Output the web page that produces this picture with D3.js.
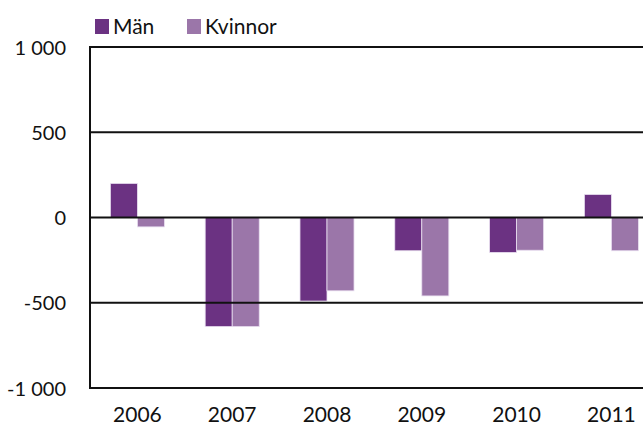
<!DOCTYPE html>
<html>
<head>
<meta charset="utf-8">
<script src="https://cdn.jsdelivr.net/npm/d3@7"></script>
<style>
  body { margin: 0; background: #fff; }
  svg { display: block; }
</style>
</head>
<body>
<svg class="chart" width="643" height="427"></svg>
<script>
// data
const years = ['2006', '2007', '2008', '2009', '2010', '2011'];
const series = ['Män', 'Kvinnor'];
const man = [200, -640, -490, -195, -205, 135];
const kvinnor = [-55, -640, -430, -460, -192, -195];
const yTicks = [1000, 500, 0, -500, -1000];

const colors = ['#6b3282', '#9b76a9'];
const fontFam = "'Lato', 'Open Sans', sans-serif";

const svg = d3.select('svg.chart');

const plotLeft = 90, plotTop = 47, plotBottom = 388;
const step = 94.8;

const x = d3.scaleBand()
  .domain(years)
  .range([plotLeft, plotLeft + step * years.length]);

const x1 = d3.scaleBand()
  .domain(series)
  .range([x.bandwidth() * 0.215, x.bandwidth() * 0.785]);

const y = d3.scaleLinear()
  .domain([-1000, 1000])
  .range([plotBottom, plotTop]);

const rows = years.map((yr, i) => ({ year: yr, vals: [man[i], kvinnor[i]] }));

// bars
const grp = svg.append('g').attr('class', 'bars');
grp.selectAll('g.yr')
  .data(rows)
  .enter()
  .append('g')
  .attr('class', 'yr')
  .attr('transform', d => `translate(${x(d.year)},0)`)
  .selectAll('rect')
  .data(d => d.vals.map((v, j) => ({ s: series[j], v: v, j: j })))
  .enter()
  .append('rect')
  .attr('x', d => x1(d.s))
  .attr('width', x1.bandwidth())
  .attr('y', d => y(Math.max(0, d.v)))
  .attr('height', d => Math.abs(y(d.v) - y(0)))
  .style('fill', d => colors[d.j])
  .style('stroke', '#e9dff0')
  .style('stroke-width', 0.8);

// gridlines (drawn over the bars like the original)
svg.append('g').selectAll('line')
  .data(yTicks.filter(t => t > -1000))
  .enter()
  .append('line')
  .attr('x1', plotLeft)
  .attr('x2', 643)
  .attr('y1', d => y(d))
  .attr('y2', d => y(d))
  .style('stroke', '#111')
  .style('stroke-width', 2);

// frame: left and bottom
svg.append('line')
  .attr('x1', plotLeft).attr('x2', plotLeft)
  .attr('y1', plotTop - 1).attr('y2', plotBottom + 1)
  .style('stroke', '#111').style('stroke-width', 2);
svg.append('line')
  .attr('x1', plotLeft - 1).attr('x2', 643)
  .attr('y1', plotBottom).attr('y2', plotBottom)
  .style('stroke', '#111').style('stroke-width', 2);

// y labels
const fmt = v => {
  const a = Math.abs(v);
  const s = a >= 1000 ? Math.floor(a / 1000) + ' ' + String(a % 1000).padStart(3, '0') : String(a);
  return (v < 0 ? '-' : '') + s;
};
svg.append('g').selectAll('text')
  .data(yTicks)
  .enter()
  .append('text')
  .attr('x', 66)
  .attr('y', d => y(d) + 7.5)
  .attr('text-anchor', 'end')
  .text(d => fmt(d))
  .style('font-family', fontFam)
  .style('font-size', '20px')
  .style('fill', '#111');

// x labels
svg.append('g').selectAll('text')
  .data(years)
  .enter()
  .append('text')
  .attr('x', d => x(d) + x.bandwidth() / 2)
  .attr('y', 422)
  .attr('text-anchor', 'middle')
  .text(d => d)
  .style('font-family', fontFam)
  .style('font-size', '21px')
  .style('fill', '#111');

// legend
const legend = svg.append('g').attr('class', 'legend');
const legX = [95, 187];
series.forEach((s, i) => {
  legend.append('rect')
    .attr('x', legX[i]).attr('y', 19)
    .attr('width', 14).attr('height', 15)
    .style('fill', colors[i]);
  legend.append('text')
    .attr('x', legX[i] + 18).attr('y', 34)
    .text(s)
    .style('font-family', fontFam)
    .style('font-size', '21px')
    .style('fill', '#111');
});
</script>
</body>
</html>
